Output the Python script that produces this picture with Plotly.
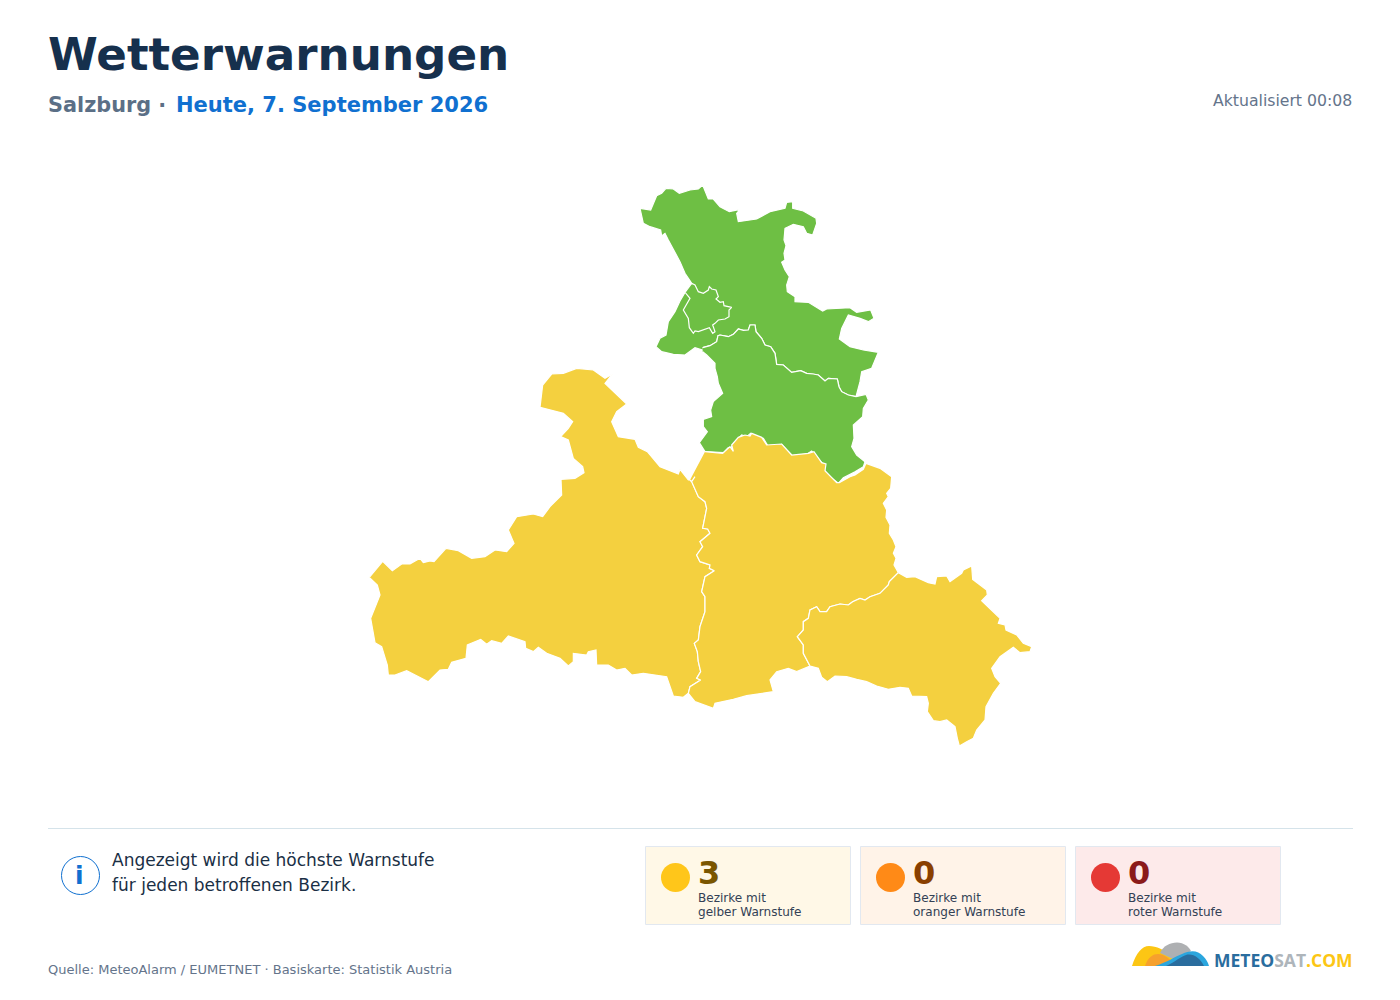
import plotly.graph_objects as go

# --- text and counts ---
TITLE = "Wetterwarnungen"
REGION = "Salzburg ·"
DATE = "Heute, 7. September 2026"
UPDATED = "Aktualisiert 00:08"
INFO_LINES = ["Angezeigt wird die höchste Warnstufe", "für jeden betroffenen Bezirk."]
SOURCE = "Quelle: MeteoAlarm / EUMETNET · Basiskarte: Statistik Austria"
CARD_COUNTS = [3, 0, 0]
CARD_LINE1 = ["Bezirke mit", "Bezirke mit", "Bezirke mit"]
CARD_LINE2 = ["gelber Warnstufe", "oranger Warnstufe", "roter Warnstufe"]

# --- district outlines, traced on 3x map sheets ---
SHEET_N = (630, 175)
SHEET_W = (360, 360)
SHEET_S = (680, 430)

# shared boundaries
BORDER_FLACHGAU_TENNENGAU = [(218,518),(240,512),(260,500),(264,482),(270,480),(295,485),(310,478),(325,462),(340,466),(355,465),(360,450),(375,450),(378,470),(395,490),(405,510),(422,515),(435,535),(440,568),(460,570),(485,592),(512,587),(530,595),(550,597),(565,600),(585,618),(595,610),(622,612),(627,635),(635,650),(655,660),(678,665)]
BORDER_TENNENGAU_PONGAU = [(75,65),(128,70),(150,50),(160,64),(155,45),(175,22),(195,15),(210,18),(215,10),(245,22),(260,45),(305,42),(335,75),(385,70),(402,65),(425,98),(438,102),(435,122),(470,158),(478,158),(510,140),(525,135),(550,118),(558,100)]
BORDER_PONGAU_PINZGAU = [(30,150),(35,155),(45,140),(35,155),(55,200),(75,215),(80,235),(68,295),(83,297),(90,310),(60,335),(68,350),(50,375),(60,395),(90,405),(88,415),(103,422),(75,440),(65,485),(75,500),(75,545),(60,590),(55,630),(43,640),(52,665),(55,695),(62,725),(50,745),(62,750),(30,770),(25,790)]
BORDER_PONGAU_LUNGAU = [(655,428),(628,455),(625,465),(600,490),(570,500),(555,510),(540,505),(518,515),(505,525),(480,522),(450,530),(440,545),(420,545),(410,530),(390,540),(385,565),(370,575),(370,600),(352,620),(370,645),(370,670),(390,708)]

FLACHGAU_OUTER = [(218,525),(195,518),(165,540),(130,538),(95,530),(78,515),(90,490),(108,480),(115,440),(135,410),(150,378),(165,352),(185,325),(165,295),(150,260),(130,225),(115,195),(105,175),(95,183),(92,165),(60,155),(40,145),(30,100),(62,105),(80,62),(95,55),(108,40),(130,42),(148,55),(180,45),(205,42),(218,30),(228,52),(235,72),(250,72),(270,95),(298,110),(330,103),(320,115),(325,140),(380,132),(420,110),(465,100),(470,82),(488,80),(488,100),(520,108),(558,130),(560,145),(548,180),(530,175),(520,155),(490,148),(465,160),(462,195),(468,212),(462,235),(465,255),(455,262),(465,285),(478,305),(470,330),(472,350),(495,365),(495,380),(535,382),(578,408),(590,402),(660,398),(680,412),(722,405),(732,430),(715,440),(690,430),(655,420),(635,460),(628,492),(660,515),(700,525),(745,532),(725,580),(695,590),(690,620)]
STADT = [(185,325),(195,330),(205,350),(220,355),(235,345),(238,335),(245,342),(258,345),(265,365),(258,372),(270,382),(280,380),(282,392),(305,397),(297,405),(297,425),(285,432),(265,435),(255,445),(248,450),(255,470),(248,475),(238,458),(205,470),(195,468),(190,475),(178,458),(175,430),(160,405),(180,370),(165,352),(185,325)]
TENNENGAU_OUTER = [(708,658),(715,675),(700,700),(698,725),(670,750),(672,790),(665,815),(680,840),(705,860)]
TENNENGAU_SOUTH = [(700,875),(675,890),(640,908),(625,925),(600,905),(585,890),(580,868),(565,850),(545,828),(530,838),(490,845),(470,825),(455,808),(415,815),(400,790),(375,785),(362,775),(350,785),(335,780),(315,800),(305,815),(308,828),(295,818),(280,833),(225,830)]
TENNENGAU_WEST = [(208,803),(232,770),(220,755),(220,733),(245,725),(242,705),(250,680),(278,655),(265,625),(262,605),(255,580),(255,565),(230,540),(218,530)]
PONGAU_EAST = [(600,115),(635,140),(632,175),(620,190),(625,200),(610,220),(620,240),(618,262),(630,285),(628,310),(640,330),(648,350),(640,370),(648,385),(642,405),(650,420)]
PONGAU_SOUTH = [(350,725),(325,715),(290,725),(270,750),(280,785),(200,797),(160,808),(105,820),(100,835),(45,815),(25,790)]
LUNGAU_OUTER = [(680,442),(705,440),(745,458),(765,462),(770,440),(800,438),(810,455),(845,430),(850,420),(875,408),(878,448),(920,480),(922,495),(905,512),(930,535),(960,565),(955,580),(975,585),(978,600),(1010,615),(1030,640),(1055,650),(1050,665),(1020,668),(1000,652),(980,665),(960,680),(935,715),(945,740),(962,760),(940,790),(918,830),(915,870),(890,900),(880,925),(860,935),(838,948),(832,925),(825,890),(800,870),(780,875),(760,872),(742,845),(745,820),(740,800),(695,798),(685,775),(660,772),(625,778),(590,768),(560,755),(530,748),(500,740),(465,738),(442,755),(425,742),(415,715)]
PINZGAU_NORTH = [(28,652),(68,604),(97,632),(125,612),(150,612),(180,595),(190,608),(210,603),(222,605),(258,565),(295,572),(335,595),(375,590),(405,570),(440,575),(462,550),(445,510),(470,470),(520,462),(548,470),(570,440),(605,405),(603,358),(645,355),(672,338),(668,320),(640,295),(625,240),(602,230),(625,205),(638,185),(610,160),(540,142),(548,75),(575,42),(610,40),(650,25),(700,30),(735,55),(757,42),(735,70),(800,132),(770,155),(755,185),(775,230),(825,238),(835,262),(862,275),(900,320),(955,342),(960,328),(985,360)]
PINZGAU_SOUTH = [(970,1012),(940,1008),(920,950),(850,940),(815,945),(795,925),(770,930),(745,915),(710,915),(708,870),(685,875),(680,885),(640,880),(640,905),(625,918),(600,895),(560,880),(535,862),(520,875),(497,865),(495,845),(445,828),(425,850),(395,842),(380,853),(362,838),(322,855),(318,895),(275,907),(265,928),(240,930),(205,965),(185,955),(140,932),(105,945),(85,945),(82,915),(65,860),(45,848),(32,775),(60,705),(52,675),(28,652)]


def sheet(points, origin):
    return [(origin[0] + a / 3, origin[1] + b / 3) for a, b in points]


N, W, S = SHEET_N, SHEET_W, SHEET_S
DISTRICTS = [
    ("Flachgau", "#6ebf44", sheet(FLACHGAU_OUTER + BORDER_FLACHGAU_TENNENGAU[::-1] , N)),
    ("Stadt Salzburg", "#6ebf44", sheet(STADT, N)),
    ("Tennengau", "#6ebf44", sheet(BORDER_FLACHGAU_TENNENGAU + TENNENGAU_OUTER + TENNENGAU_SOUTH + TENNENGAU_WEST, N)),
    ("Pinzgau", "#f4d03f", sheet(PINZGAU_NORTH, W) + sheet(BORDER_PONGAU_PINZGAU, S) + sheet(PINZGAU_SOUTH, W)),
    ("Pongau", "#f4d03f", sheet(BORDER_TENNENGAU_PONGAU + PONGAU_EAST + BORDER_PONGAU_LUNGAU + PONGAU_SOUTH + BORDER_PONGAU_PINZGAU[::-1], S)),
    ("Lungau", "#f4d03f", sheet(BORDER_PONGAU_LUNGAU[:1] + LUNGAU_OUTER + BORDER_PONGAU_LUNGAU[::-1], S)),
]

fig = go.Figure()
for name, colour, pts in DISTRICTS:
    fig.add_trace(go.Scatter(
        x=[p[0] for p in pts], y=[p[1] for p in pts], name=name,
        mode="lines", fill="toself", fillcolor=colour,
        line=dict(color="#ffffff", width=1.2), hoverinfo="name", showlegend=False,
    ))

FONT = "DejaVu Sans"
annotations = []


def label(x, y, text, size, color, anchor="left", family=FONT):
    annotations.append(dict(x=x, y=y, xref="x", yref="y", text=text, showarrow=False,
                            xanchor=anchor, yanchor="middle", align=anchor,
                            font=dict(family=family, size=size, color=color), borderpad=0))


label(47, 54.5, f"<b>{TITLE}</b>", 45.2, "#16304d")
label(47, 105, f"<b>{REGION}</b>", 20.8, "#5b6f86")
label(174.5, 105, f"<b>{DATE}</b>", 21, "#1070d0")
label(1353, 100, UPDATED, 15.7, "#64748b", "right")
label(111, 860, INFO_LINES[0], 17, "#1a2f45")
label(111, 885, INFO_LINES[1], 17, "#1a2f45")
label(47, 969, SOURCE, 13, "#64748b")
label(79.5, 875, "<b>i</b>", 25, "#1070d0", "center")

shapes = [
    dict(type="line", x0=48, x1=1353, y0=828.5, y1=828.5, line=dict(color="#d5e3ea", width=1)),
    dict(type="circle", x0=61.5, x1=99.5, y0=856.5, y1=894.5, line=dict(color="#1070d0", width=1), fillcolor="#ffffff"),
]
CARDS = [
    (645.5, 850.5, "#fff8e7", "#ffc61a", "#7a5600"),
    (860.5, 1065.5, "#fff3e8", "#ff8a17", "#8a3f00"),
    (1075.5, 1280.5, "#fdeaea", "#e53935", "#8b1a1a"),
]
for (x0, x1, bg, dot, ink), n, l1, l2 in zip(CARDS, CARD_COUNTS, CARD_LINE1, CARD_LINE2):
    shapes.append(dict(type="rect", x0=x0, x1=x1, y0=846.5, y1=924.5, fillcolor=bg, line=dict(color="#e2e8f0", width=1)))
    shapes.append(dict(type="circle", x0=x0 + 15.5, x1=x0 + 44.5, y0=863, y1=892, fillcolor=dot, line=dict(width=0)))
    label(x0 + 51.5, 873, f"<b>{n}</b>", 32, ink)
    label(x0 + 51.5, 897.5, l1, 12.05, "#334155")
    label(x0 + 51.5, 912, l2, 12.05, "#334155")

# logo
LOGO = [
    ("M1132 966 C1136 953 1142 946 1149 946 C1156 946 1165 950 1172 956 L1185 966 Z", "#fcc614"),
    ("M1160 953 C1163 946 1170 942.5 1177 942.5 C1184 942.5 1189 947 1191 951 L1175 960 Z", "#aeb0b2"),
    ("M1145 966 C1148 957 1153 954 1158 954 C1164 954 1168 958 1172 961 L1178 966 Z", "#f6a02d"),
    ("M1155 966 C1168 962 1174 957 1182 954 C1190 950 1198 950 1203 956 C1206 959 1208 962 1209 966 Z", "#2ba6de"),
    ("M1166 966 C1172 964 1178 958 1186 955 C1193 953 1200 958 1204 966 Z", "#2a6d9e"),
]
for path, colour in LOGO:
    shapes.append(dict(type="path", path=path, fillcolor=colour, line=dict(width=0)))
label(1213, 960, "<b><span style='color:#2a6d9e'>METEO</span><span style='color:#aeb5bb'>SAT</span><span style='color:#fcc614'>.COM</span></b>", 17.5, "#2a6d9e", family="Open Sans")

fig.update_layout(
    width=1400, height=1000, margin=dict(l=0, r=0, t=0, b=0),
    paper_bgcolor="#ffffff", plot_bgcolor="#ffffff", showlegend=False,
    xaxis=dict(range=[0, 1400], visible=False, domain=[0, 1], fixedrange=True),
    yaxis=dict(range=[1000, 0], visible=False, domain=[0, 1], fixedrange=True),
    shapes=shapes, annotations=annotations,
)
fig.write_html("out.html", post_script="document.body.style.margin='0';", config={"displayModeBar": False})
